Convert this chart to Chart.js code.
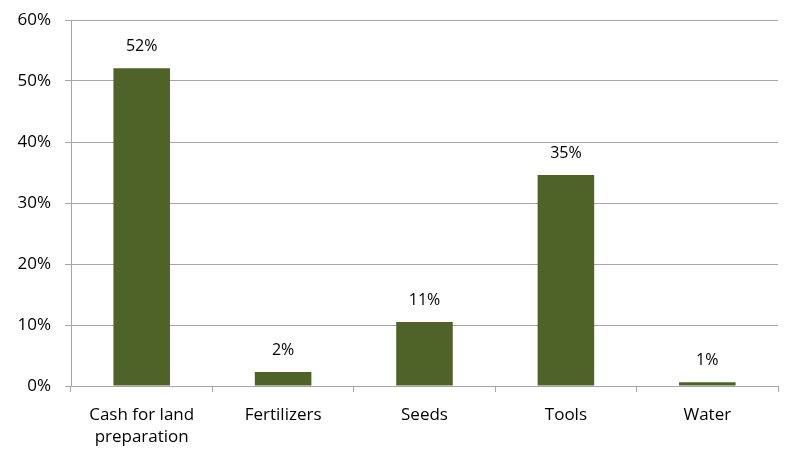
<!DOCTYPE html>
<html>
<head>
<meta charset="utf-8">
<script src="https://cdn.jsdelivr.net/npm/chart.js@4"></script>
<style>
  html, body { margin: 0; padding: 0; background: #fff; }
  #wrap { width: 785px; height: 451px; }
</style>
</head>
<body>
<div id="wrap"><canvas id="chart" width="785" height="451"></canvas></div>
<script>
const categories = [['Cash for land', 'preparation'], 'Fertilizers', 'Seeds', 'Tools', 'Water'];
const shares = [52.1, 2.3, 10.5, 34.6, 0.6];
const yTicks = [0, 10, 20, 30, 40, 50, 60];

const FONT = '"Open Sans", "Noto Sans", sans-serif';
const GRID = '#a6a6a6';

// labels above bars, rounded like the original
const barLabels = {
  id: 'barLabels',
  afterDatasetsDraw(chart) {
    const ctx = chart.ctx;
    const meta = chart.getDatasetMeta(0);
    ctx.save();
    ctx.font = '16px ' + FONT;
    ctx.fillStyle = '#000';
    ctx.textAlign = 'center';
    ctx.textBaseline = 'middle';
    meta.data.forEach((bar, i) => {
      ctx.fillText(Math.round(shares[i]) + '%', bar.x, bar.y - 22);
    });
    ctx.restore();
  },
};

new Chart(document.getElementById('chart'), {
  type: 'bar',
  data: {
    labels: categories,
    datasets: [{
      data: shares,
      backgroundColor: '#4f6228',
      categoryPercentage: 1,
      barPercentage: 0.4,
    }],
  },
  options: {
    responsive: false,
    animation: false,
    layout: { padding: { top: 20, right: 7, bottom: 0, left: 0 } },
    plugins: { legend: { display: false }, tooltip: { enabled: false } },
    scales: {
      x: {
        grid: { drawOnChartArea: false, offset: true, color: GRID, tickLength: 6 },
        border: { color: GRID },
        ticks: { color: '#000', font: { family: FONT, size: 17, lineHeight: 1.3 }, maxRotation: 0, padding: 12 },
        afterFit: (s) => { s.height = 65; s.paddingLeft = 0; s.paddingRight = 0; },
      },
      y: {
        min: 0,
        max: 60,
        afterBuildTicks: (s) => { s.ticks = yTicks.map((v) => ({ value: v })); },
        grid: { color: GRID, tickLength: 6 },
        border: { color: GRID },
        ticks: { color: '#000', font: { family: FONT, size: 17 }, padding: 14, callback: (v) => v + '%' },
        afterFit: (s) => { s.width = 71; s.paddingTop = 0; s.paddingBottom = 0; },
      },
    },
  },
  plugins: [barLabels],
});
</script>
</body>
</html>
